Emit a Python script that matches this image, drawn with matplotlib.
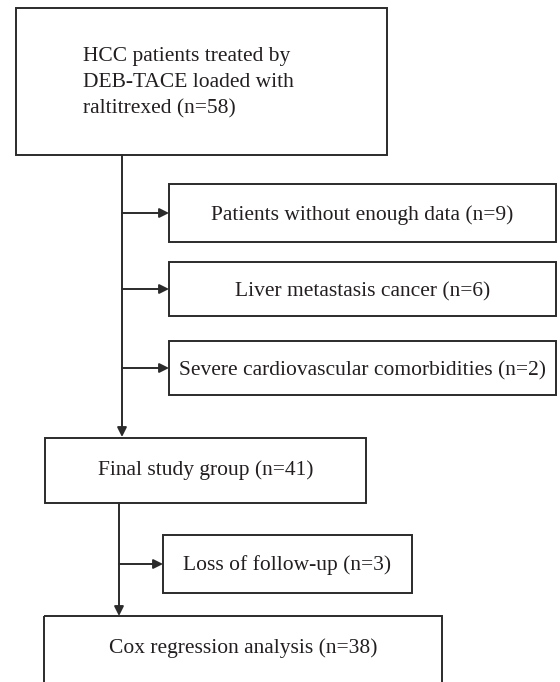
import matplotlib
matplotlib.use("Agg")
import matplotlib.pyplot as plt
from matplotlib.patches import Rectangle

# Flowchart content
main_steps = ["HCC patients treated by\nDEB-TACE loaded with\nraltitrexed (n=58)",
              "Final study group (n=41)",
              "Cox regression analysis (n=38)"]
exclusions_1 = ["Patients without enough data (n=9)",
                "Liver metastasis cancer (n=6)",
                "Severe cardiovascular comorbidities (n=2)"]
exclusions_2 = ["Loss of follow-up (n=3)"]

W, H = 560, 682
fig = plt.figure(figsize=(W / 100, H / 100), dpi=100)
ax = fig.add_axes([0, 0, 1, 1])
ax.set_xlim(0, W)
ax.set_ylim(H, 0)
ax.axis("off")

LC = "#2b2b2b"
LW = 1.4
FONT = dict(family="Liberation Serif", fontsize=15.5, color="#231f20")
BASE_OFF = 6  # baseline offset below text middle


def box(x0, y0, x1, y1):
    ax.add_patch(Rectangle((x0, y0), x1 - x0, y1 - y0, fill=False,
                           edgecolor=LC, linewidth=LW, clip_on=False))


def arrow(x0, y0, x1, y1):
    ax.annotate("", xy=(x1, y1), xytext=(x0, y0),
                arrowprops=dict(arrowstyle="-|>", color=LC, lw=LW,
                                mutation_scale=14, shrinkA=0, shrinkB=0))


def label(x, ym, s, ha="center"):
    ax.text(x, ym + BASE_OFF, s, ha=ha, va="baseline", **FONT)


# Top box
box(16, 8, 387, 155)
for i, line in enumerate(main_steps[0].split("\n")):
    ax.text(83, 61 + 26 * i, line, ha="left", va="baseline", **FONT)

# Main vertical line with arrow
arrow(122, 155, 122, 437)

# Exclusion boxes
ex_boxes = [(184, 242), (262, 316), (341, 395)]
for (t, b), s in zip(ex_boxes, exclusions_1):
    box(169, t, 556, b)
    ym = (t + b) / 2
    label((169 + 556) / 2, ym + 1, s)
    arrow(122, ym, 169, ym)

# Final study group
box(45, 438, 366, 503)
label((45 + 366) / 2, 469, main_steps[1])

# Second vertical arrow
arrow(119, 503, 119, 616)

# Loss box
box(163, 535, 412, 593)
label((163 + 412) / 2, 564, exclusions_2[0])
arrow(119, 564, 163, 564)

# Cox box (extends beyond bottom)
box(44, 616, 442, 700)
label((44 + 442) / 2, 647, main_steps[2])

fig.savefig("out.png", dpi=100, facecolor="white")
